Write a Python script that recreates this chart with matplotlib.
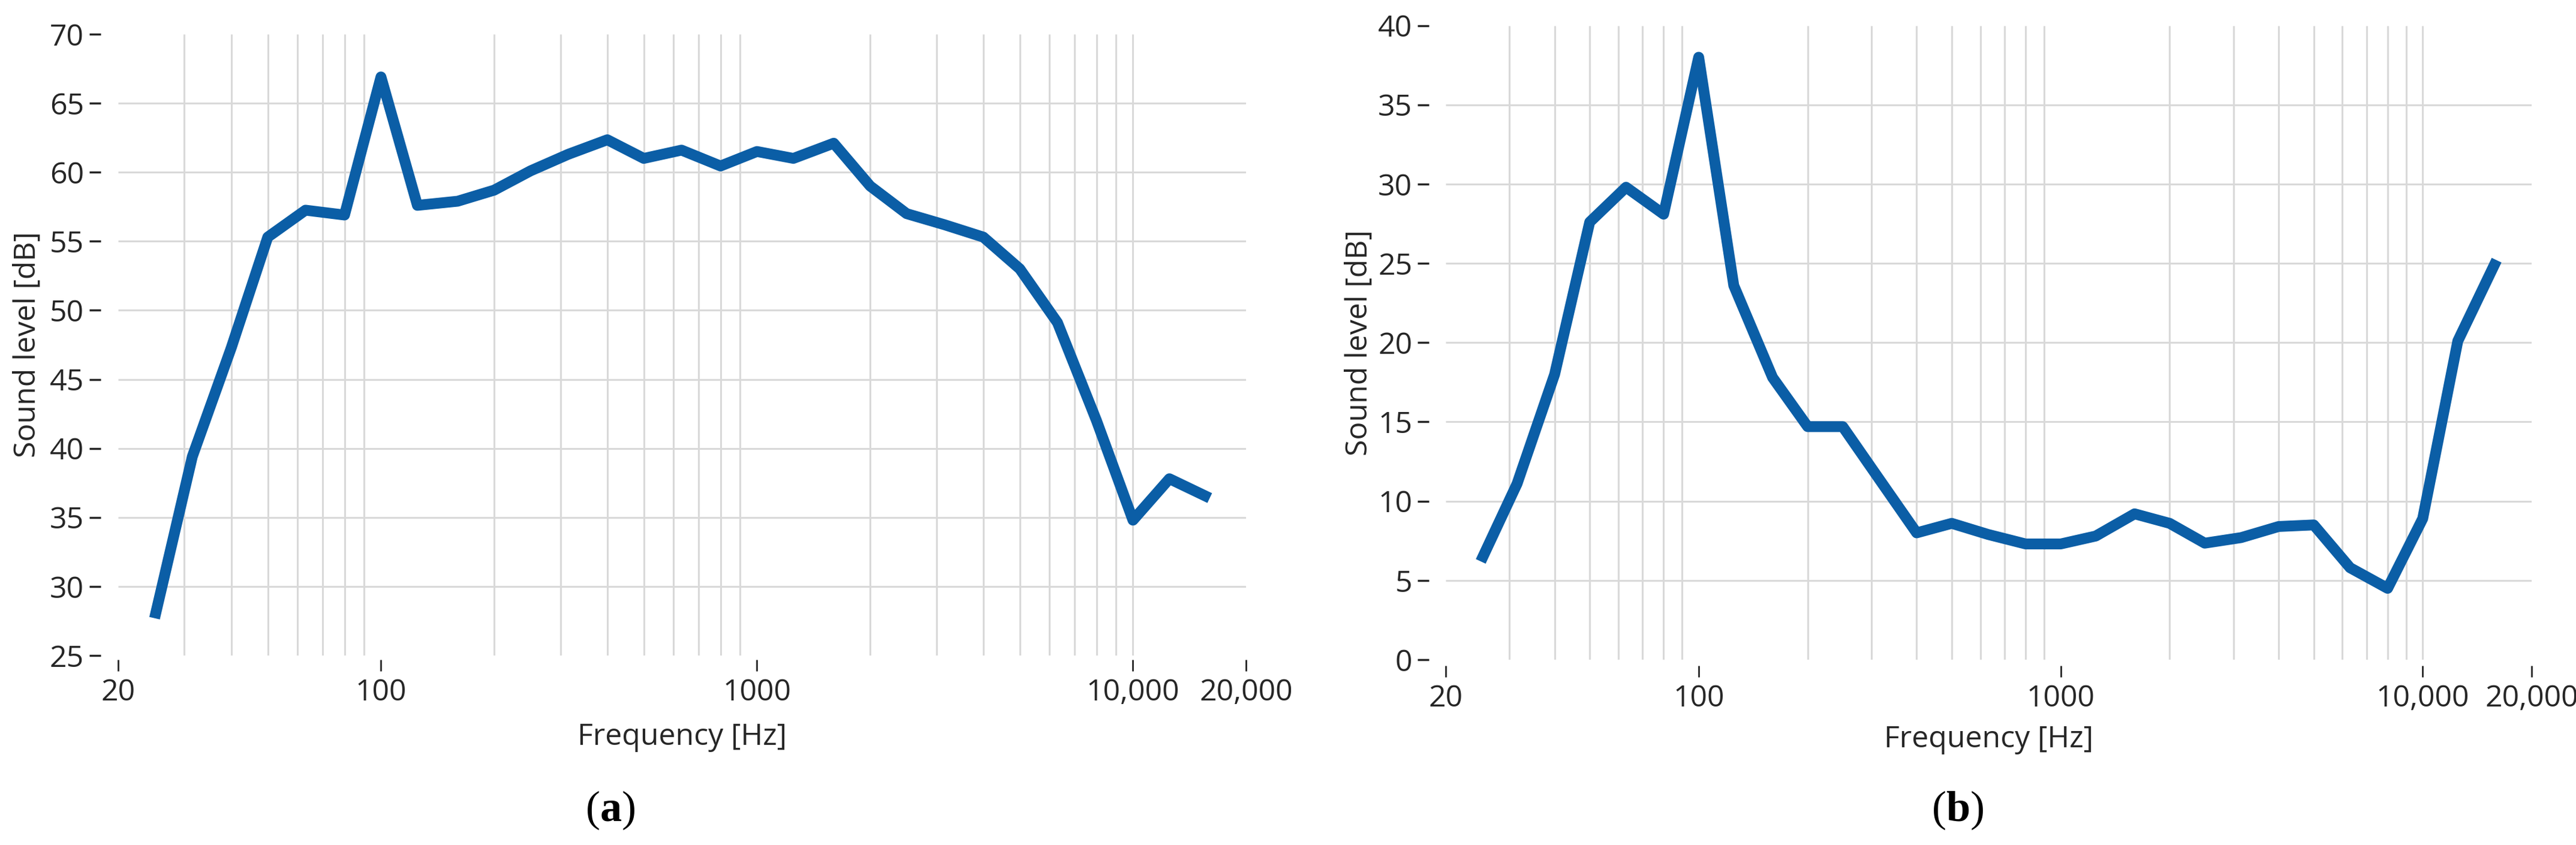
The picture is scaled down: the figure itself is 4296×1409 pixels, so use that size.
import matplotlib
matplotlib.use('Agg')
import matplotlib.pyplot as plt

plt.rcParams['font.family'] = ['Open Sans', 'DejaVu Sans']
plt.rcParams['mathtext.fontset'] = 'custom'
plt.rcParams['mathtext.rm'] = 'Liberation Serif'
plt.rcParams['mathtext.bf'] = 'Liberation Serif:bold'

# 1/3-octave band centres [Hz]
freqs = [25, 31.5, 40, 50, 63, 80, 100, 125, 160, 200, 250, 315, 400, 500, 630,
         800, 1000, 1250, 1600, 2000, 2500, 3150, 4000, 5000, 6300, 8000, 10000,
         12500, 16000]

# sound level [dB], panel (a) and panel (b)
level_a = [27.7, 39.4, 47.3, 55.3, 57.25, 56.9, 66.9, 57.6, 57.9, 58.7, 60.1,
           61.3, 62.35, 61.0, 61.6, 60.45, 61.5, 61.0, 62.1, 59.0, 57.0, 56.2,
           55.3, 53.0, 49.1, 42.0, 34.8, 37.8, 36.4]
level_b = [6.2, 11.1, 18.0, 27.6, 29.8, 28.1, 38.0, 23.6, 17.8, 14.7, 14.7,
           11.4, 8.0, 8.6, 7.9, 7.3, 7.3, 7.8, 9.2, 8.6, 7.35, 7.7, 8.4, 8.5,
           5.8, 4.5, 8.9, 20.1, 25.2]

xticks = [20, 100, 1000, 10000, 20000]
xticklabels = ['20', '100', '1000', '10,000', '20,000']
yticks_a = [25, 30, 35, 40, 45, 50, 55, 60, 65, 70]
yticks_b = [0, 5, 10, 15, 20, 25, 30, 35, 40]
grid_freqs = [m * d for d in (10, 100, 1000) for m in range(3 if d == 10 else 2, 10)] + [10000]

line_col = '#0b5ea6'
grid_col = '#d9d9d9'
text_col = '#262626'

fig = plt.figure(figsize=(42.96, 14.09), dpi=100)
ax_a = fig.add_axes([0.04586, 0.2243, 0.4379, 0.7353])
ax_b = fig.add_axes([0.5612, 0.2193, 0.4216, 0.7505])


def style(ax, levels, yticks, ylab_x, xlab_y, y_out, x_out):
    ax.set_xscale('log')
    ax.set_xlim(20, 20000)
    ax.set_ylim(yticks[0], yticks[-1])
    ax.vlines(grid_freqs, yticks[0], yticks[-1], color=grid_col, lw=2.2, zorder=1)
    ax.hlines(yticks[1:-1], 20, 20000, color=grid_col, lw=2.2, zorder=1)
    ax.plot(freqs, levels, color=line_col, lw=13, solid_joinstyle='round',
            solid_capstyle='butt', zorder=3)
    for s in ax.spines.values():
        s.set_visible(False)
    ax.spines['left'].set_position(('outward', y_out))
    ax.spines['bottom'].set_position(('outward', x_out))
    ax.set_xticks(xticks)
    ax.set_xticklabels(xticklabels)
    ax.xaxis.set_minor_locator(matplotlib.ticker.NullLocator())
    ax.set_yticks(yticks)
    ax.tick_params(axis='y', length=14, width=2.5, pad=6, labelsize=36,
                   color=text_col, labelcolor=text_col)
    ax.tick_params(axis='x', length=14, width=2, pad=8, labelsize=36,
                   color=text_col, labelcolor=text_col)
    ax.set_ylabel('Sound level [dB]', fontsize=36, color=text_col)
    ax.set_xlabel('Frequency [Hz]', fontsize=36, color=text_col)
    ax.yaxis.set_label_coords(ylab_x, 0.5)
    ax.xaxis.set_label_coords(0.5, xlab_y)


style(ax_a, level_a, yticks_a, -0.067, -0.108, 21, 5)
style(ax_b, level_b, yticks_b, -0.066, -0.103, 20, 7)

fig.text(1018 / 4296, 1 - 1351 / 1409, r'($\mathbf{a}$)', fontsize=52,
         family='Liberation Serif', ha='center', va='center', color='black')
fig.text(3265 / 4296, 1 - 1351 / 1409, r'($\mathbf{b}$)', fontsize=52,
         family='Liberation Serif', ha='center', va='center', color='black')

fig.savefig('out.png', dpi=100, facecolor='white')
